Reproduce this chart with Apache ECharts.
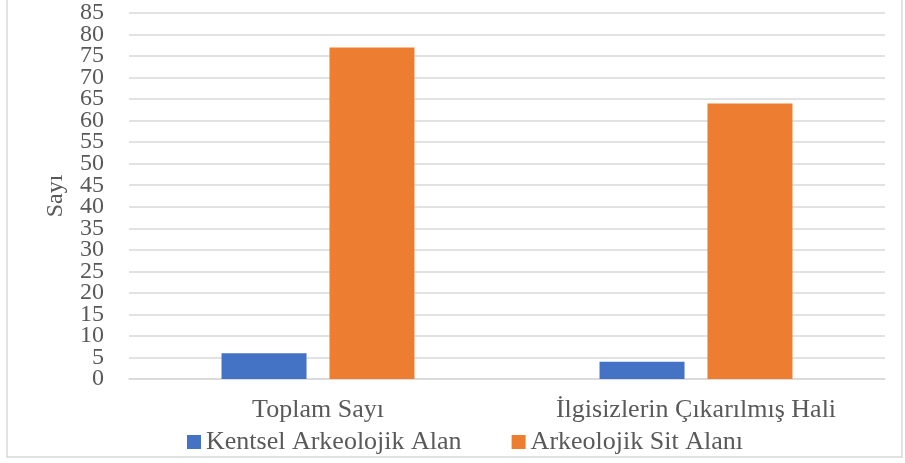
<!DOCTYPE html>
<html lang="tr">
<head>
    <meta charset="UTF-8">
    <title>Sayı</title>
    <script src="https://cdn.jsdelivr.net/npm/echarts@6/dist/echarts.min.js"></script>
    <style>
        html, body { margin: 0; padding: 0; background: #fff; }
        #main { width: 905px; height: 463px; }
    </style>
</head>
<body>
<div id="main"></div>
<script>
    // veriler
    var categories = ['Toplam Sayı', 'İlgisizlerin Çıkarılmış Hali'];
    var kentsel = [6, 4];
    var arkeolojikSit = [77, 64];
    var seriesNames = ['Kentsel Arkeolojik Alan', 'Arkeolojik Sit Alanı'];
    var yMin = 0, yMax = 85, yStep = 5;

    var font = '"Liberation Serif", "Times New Roman", serif';
    var labelStyle = { fontFamily: font, fontSize: 24, color: '#595959', margin: 25 };

    var myChart = echarts.init(document.getElementById('main'));
    var option = {
        animation: false,
        graphic: [{
            type: 'rect',
            shape: { x: 7, y: -2, width: 895, height: 459 },
            style: { fill: 'none', stroke: '#d9d9d9', lineWidth: 1.5 },
            silent: true
        }],
        grid: { left: 129, right: 20, top: 13, bottom: 84 },
        legend: {
            data: seriesNames,
            top: 424,
            left: 182,
            itemWidth: 14,
            itemHeight: 14,
            itemGap: 50,
            icon: 'rect',
            textStyle: { fontFamily: font, fontSize: 26, color: '#595959' }
        },
        xAxis: {
            type: 'category',
            data: categories,
            axisLine: { lineStyle: { color: '#d9d9d9', width: 1.5 } },
            axisTick: { show: false },
            axisLabel: { fontFamily: font, fontSize: 26, color: '#595959', margin: 18 }
        },
        yAxis: [{
            type: 'value',
            min: yMin,
            max: yMax,
            interval: yStep,
            name: 'Sayı',
            nameLocation: 'middle',
            nameGap: 61,
            nameTextStyle: { fontFamily: font, fontSize: 24, color: '#595959' },
            axisLabel: Object.assign({ showMinLabel: true, showMaxLabel: true }, labelStyle),
            splitLine: { lineStyle: { color: '#d9d9d9', width: 1.5 } }
        }, {
            // ikinci eksen: üst üste binince gizlenen 5 ve 80 etiketleri
            type: 'value',
            position: 'left',
            min: yMin,
            max: yMax,
            interval: yStep,
            axisLine: { show: false },
            axisTick: { show: false },
            splitLine: { show: false },
            axisLabel: Object.assign({
                formatter: function (v) {
                    return (v === yMin + yStep || v === yMax - yStep) ? String(v) : '';
                }
            }, labelStyle)
        }],
        series: [{
            name: seriesNames[0],
            type: 'bar',
            data: kentsel,
            barWidth: 85,
            barGap: '27%',
            itemStyle: { color: '#4472c4' }
        }, {
            name: seriesNames[1],
            type: 'bar',
            data: arkeolojikSit,
            barWidth: 85,
            barGap: '27%',
            itemStyle: { color: '#ed7d31' }
        }]
    };
    myChart.setOption(option);
</script>
</body>
</html>
